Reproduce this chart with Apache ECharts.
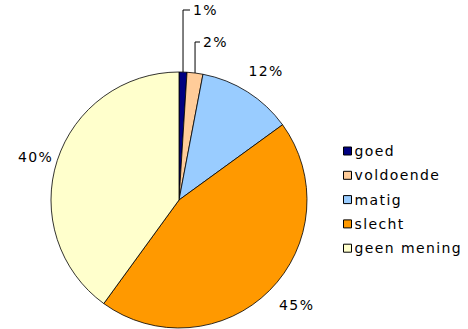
<!DOCTYPE html>
<html>
<head>
<meta charset="utf-8">
<script src="https://cdn.jsdelivr.net/npm/echarts@6/dist/echarts.min.js"></script>
<style>
html,body{margin:0;padding:0;background:#fff;}
#c{width:468px;height:329px;}
#c svg text{letter-spacing:1.4px;}
</style>
</head>
<body>
<div id="c"></div>
<script>
const categories = ['goed', 'voldoende', 'matig', 'slecht', 'geen mening'];
const values = [1, 2, 12, 45, 40];
const colors = ['#000080', '#FFCC99', '#99CCFF', '#FF9900', '#FFFFCC'];

const cx = 179, cy = 200, R = 128;
const total = values.reduce((a, b) => a + b, 0);
const starts = [];
let acc = 0;
values.forEach(v => { starts.push(acc); acc += v; });

// label placement (layout only)
const labelDist = [0, 0, 155, 158, 154];
const labelShift = [[0, 0], [0, 0], [4, 2], [6, -7], [3, 5]];

const FONT = 'DejaVu Sans, Verdana, sans-serif';
const chart = echarts.init(document.getElementById('c'), null, { renderer: 'svg' });
chart.setOption({
  animation: false,
  legend: {
    orient: 'vertical',
    left: 338,
    top: 139,
    itemWidth: 8,
    itemHeight: 8,
    itemGap: 10.3,
    icon: 'rect',
    itemStyle: { borderColor: '#000', borderWidth: 1 },
    textStyle: { fontFamily: FONT, fontSize: 14, color: '#000', padding: [0, 0, 0, -2] },
    data: categories
  },
  series: [{
    type: 'pie',
    center: [cx, cy],
    radius: R,
    startAngle: 90,
    clockwise: true,
    avoidLabelOverlap: false,
    itemStyle: { borderColor: '#000', borderWidth: 0.8 },
    emphasis: { disabled: true },
    label: {
      show: true,
      formatter: '{c}%',
      fontFamily: FONT,
      fontSize: 14,
      color: '#000'
    },
    labelLine: { show: false, lineStyle: { color: '#000', width: 1 } },
    labelLayout: function (params) {
      const i = params.dataIndex;
      const mid = (starts[i] + values[i] / 2) / total * Math.PI * 2;
      const px = cx + R * Math.sin(mid);
      const py = cy - R * Math.cos(mid);
      if (i === 0 || i === 1) {
        const topY = i === 0 ? 10 : 42;
        const ex = i === 0 ? 190 : 200;
        return {
          x: ex + 3, y: topY, align: 'left', verticalAlign: 'middle',
          labelLinePoints: [[px, py], [px, topY], [ex, topY]]
        };
      }
      const rl = labelDist[i];
      return {
        x: cx + rl * Math.sin(mid) + labelShift[i][0],
        y: cy - rl * Math.cos(mid) + labelShift[i][1],
        align: 'center', verticalAlign: 'middle'
      };
    },
    data: categories.map((n, i) => ({
      name: n, value: values[i],
      itemStyle: { color: colors[i] },
      labelLine: { show: i < 2 }
    }))
  }]
});
</script>
</body>
</html>
